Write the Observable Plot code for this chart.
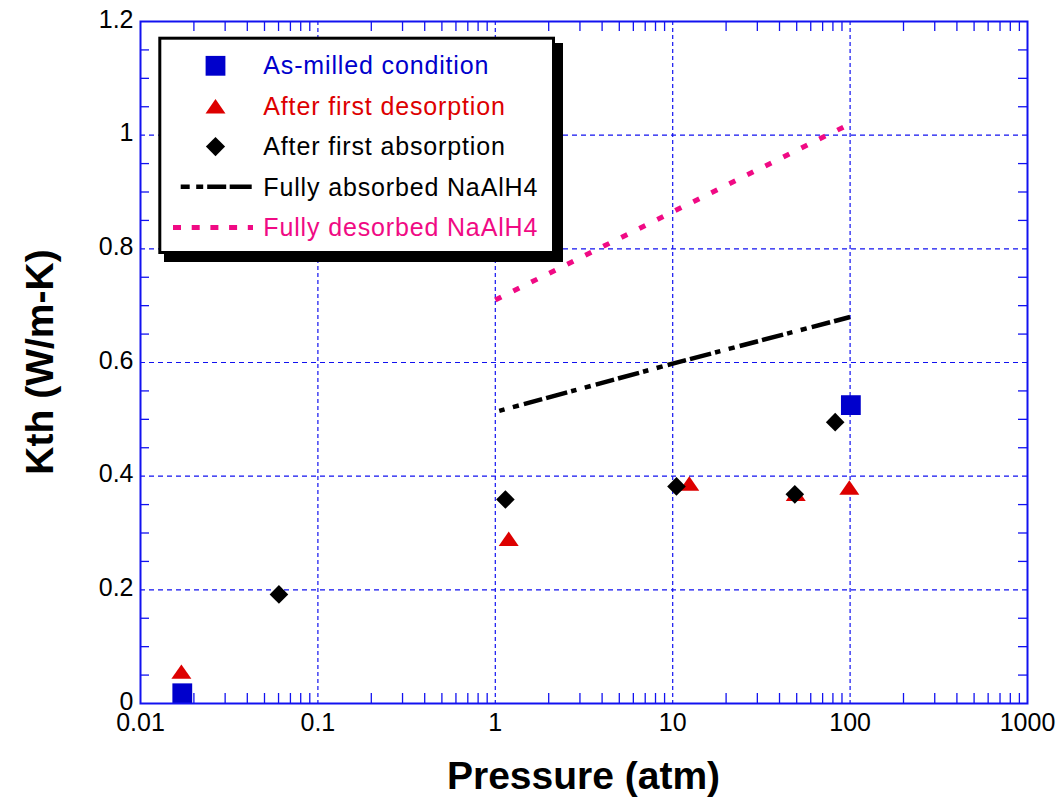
<!DOCTYPE html>
<html>
<head>
<meta charset="utf-8">
<script src="https://cdn.jsdelivr.net/npm/d3@7"></script>
<script src="https://cdn.jsdelivr.net/npm/@observablehq/plot@0.6"></script>
<style>
  body { margin: 0; background: #fff; }
  #chart { width: 1060px; height: 799px; }
</style>
</head>
<body>
<div id="chart"></div>
<script>
// ---------- data ----------
const seriesNames = ["As-milled condition", "After first desorption", "After first absorption", "Fully absorbed NaAlH4", "Fully desorbed NaAlH4"];
const asMilledP = [0.0172, 101];
const asMilledK = [0.018, 0.525];
const desorbP = [0.017, 1.19, 12.4, 49.4, 99];
const desorbK = [0.056, 0.290, 0.387, 0.369, 0.380];
const absorbP = [0.0603, 1.14, 10.5, 48.8, 82.4];
const absorbK = [0.192, 0.359, 0.382, 0.368, 0.495];
const fullAbsP = [1, 10, 100];
const fullAbsK = [0.513, 0.598, 0.680];
const fullDesP = [1, 10, 100];
const fullDesK = [0.710, 0.865, 1.020];

const xTicks = [0.01, 0.1, 1, 10, 100, 1000];
const xTickLabels = ["0.01", "0.1", "1", "10", "100", "1000"];
const yTicks = [0, 0.2, 0.4, 0.6, 0.8, 1, 1.2];
const yTickLabels = ["0", "0.2", "0.4", "0.6", "0.8", "1", "1.2"];
const xGrid = [0.1, 1, 10, 100];
const yGrid = [0.2, 0.4, 0.6, 0.8, 1];
const xMinor = [0.02,0.03,0.04,0.05,0.06,0.07,0.08,0.09,
                0.2,0.3,0.4,0.5,0.6,0.7,0.8,0.9,
                2,3,4,5,6,7,8,9,
                20,30,40,50,60,70,80,90,
                200,300,400,500,600,700,800,900];
const yMinor = [0.05,0.1,0.15,0.25,0.3,0.35,0.45,0.5,0.55,0.65,0.7,0.75,0.85,0.9,0.95,1.05,1.1,1.15];

// ---------- styles ----------
const AXIS_BLUE = "#1212f0";
const C_BLUE = "#0000cc";
const C_RED = "#dd0000";
const C_BLACK = "#000000";
const C_PINK = "#f00a84";
const FONT = "'Liberation Sans', Arial, Helvetica, sans-serif";

// custom symbols (size = pi r^2)
const squareSym = { draw(ctx, size) { const r = Math.sqrt(size / Math.PI); ctx.rect(-r, -r, 2 * r, 2 * r); } };
const triSym = { draw(ctx, size) { const r = Math.sqrt(size / Math.PI); const h = r * 0.72; ctx.moveTo(0, -h); ctx.lineTo(r, h); ctx.lineTo(-r, h); ctx.closePath(); } };
const diamondSym = { draw(ctx, size) { const r = Math.sqrt(size / Math.PI); ctx.moveTo(0, -r); ctx.lineTo(r, 0); ctx.lineTo(0, r); ctx.lineTo(-r, 0); ctx.closePath(); } };

const toRows = (P, K) => P.map((p, i) => ({ p, k: K[i] }));

const W = 1060, H = 799, mL = 140, mR = 33, mT = 21, mB = 96;
const fw = W - mL - mR, fh = H - mT - mB;

const plot = Plot.plot({
  width: W, height: H,
  marginLeft: mL, marginRight: mR, marginTop: mT, marginBottom: mB,
  style: { fontFamily: FONT, fontSize: "25px", color: "#000", background: "#fff", overflow: "visible" },
  x: { type: "log", domain: [0.01, 1000], label: null },
  y: { domain: [0, 1.2], label: null },
  marks: [
    Plot.ruleX(xGrid, { stroke: AXIS_BLUE, strokeWidth: 1.2, strokeDasharray: "4,3" }),
    Plot.ruleY(yGrid, { stroke: AXIS_BLUE, strokeWidth: 1.2, strokeDasharray: "5,4" }),
    Plot.ruleX(xMinor, { stroke: AXIS_BLUE, strokeWidth: 1.3, insetTop: fh - 10 }),
    Plot.ruleX(xMinor, { stroke: AXIS_BLUE, strokeWidth: 1.3, insetBottom: fh - 10 }),
    Plot.ruleY(yMinor, { stroke: AXIS_BLUE, strokeWidth: 1.3, insetRight: fw - 9 }),
    Plot.ruleY(yMinor, { stroke: AXIS_BLUE, strokeWidth: 1.3, insetLeft: fw - 9 }),
    Plot.line(toRows(fullDesP, fullDesK), { x: "p", y: "k", stroke: C_PINK, strokeWidth: 5, strokeDasharray: "6.7,13.4", strokeLinecap: "butt" }),
    Plot.line(toRows(fullAbsP, fullAbsK), { x: "p", y: "k", stroke: C_BLACK, strokeWidth: 4.5, strokeDasharray: "5.5,8.6,6.2,5.2,19,4.1,21.8,4.1", strokeDashoffset: 70.4, strokeLinecap: "butt" }),
    Plot.dot(toRows(asMilledP, asMilledK), { x: "p", y: "k", symbol: squareSym, r: 9.9, fill: C_BLUE, stroke: "none" }),
    Plot.dot(toRows(desorbP, desorbK), { x: "p", y: "k", symbol: triSym, r: 10, fill: C_RED, stroke: "none" }),
    Plot.dot(toRows(absorbP, absorbK), { x: "p", y: "k", symbol: diamondSym, r: 9.3, fill: C_BLACK, stroke: "none" }),
    Plot.frame({ stroke: AXIS_BLUE, strokeWidth: 2 }),
    Plot.axisX({ ticks: xTicks, tickSize: 0, tickPadding: 10, tickFormat: d => xTickLabels[xTicks.indexOf(d)], label: null, fontSize: 25 }),
    Plot.axisY({ ticks: yTicks, tickSize: 0, tickPadding: 7, dy: -2, tickFormat: d => yTickLabels[yTicks.indexOf(d)], label: null, fontSize: 25 })
  ]
});

document.getElementById("chart").appendChild(plot);

// ---------- axis titles & legend ----------
const svg = d3.select(plot);
svg.append("text")
  .attr("x", mL + fw / 2).attr("y", 788.5)
  .attr("text-anchor", "middle")
  .style("font-family", FONT).style("font-size", "39px").style("font-weight", "bold")
  .attr("fill", "#000").text("Pressure (atm)");
svg.append("text")
  .attr("transform", `translate(52.5,${mT + fh / 2}) rotate(-90)`)
  .attr("text-anchor", "middle")
  .style("font-family", FONT).style("font-size", "39px").style("font-weight", "bold")
  .attr("fill", "#000").text("Kth (W/m-K)");

const lg = svg.append("g");
// shadow + box
lg.append("rect").attr("x", 164).attr("y", 43).attr("width", 399).attr("height", 219).attr("fill", "#000");
lg.append("rect").attr("x", 159.8).attr("y", 38.2).attr("width", 393.7).attr("height", 214.3)
  .attr("fill", "#fff").attr("stroke", "#000").attr("stroke-width", 3);

const rowBase = [74.3, 114.8, 155.1, 195.5, 235.8];
const colors = [C_BLUE, C_RED, C_BLACK, C_BLACK, C_PINK];
const syms = [[squareSym, 9.9], [triSym, 10], [diamondSym, 9.6]];
syms.forEach(([s, r], i) => {
  lg.append("path")
    .attr("transform", `translate(215.5,${rowBase[i] - 8.5})`)
    .attr("d", d3.symbol(s, Math.PI * r * r)())
    .attr("fill", colors[i]);
});
lg.append("line").attr("x1", 180.7).attr("x2", 251.7).attr("y1", 186.8).attr("y2", 186.8)
  .attr("stroke", C_BLACK).attr("stroke-width", 4.5).attr("stroke-dasharray", "9,6.5,7,4,19,3.5,22,4");
lg.append("line").attr("x1", 173).attr("x2", 253).attr("y1", 227.4).attr("y2", 227.4)
  .attr("stroke", C_PINK).attr("stroke-width", 5).attr("stroke-dasharray", "8,10.7");
seriesNames.forEach((name, i) => {
  lg.append("text").attr("x", 263.3).attr("y", rowBase[i])
    .attr("text-anchor", "start")
    .style("font-family", FONT).style("font-size", "25px").style("letter-spacing", "0.85px")
    .attr("fill", colors[i]).text(name);
});
</script>
</body>
</html>
